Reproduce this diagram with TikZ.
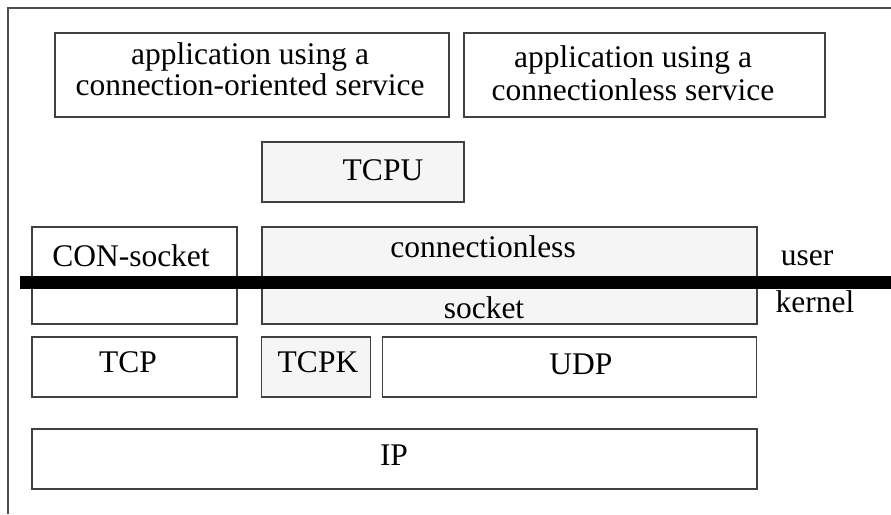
\documentclass[tikz,border=0pt]{standalone}
\usepackage{fontspec}
\setmainfont{Liberation Serif}
\begin{document}
\begin{tikzpicture}[x=1pt,y=-1pt,
  box/.style={draw=black!75, line width=1.2pt, inner sep=0pt, outer sep=0pt},
  graybox/.style={box, fill=black!4},
  txt/.style={inner sep=0pt, anchor=base, font=\fontsize{31.5}{33}\selectfont}]
\useasboundingbox (0,0) rectangle (891,514);
% frame
\draw[draw=black!70, line width=1.5pt] (8,514) -- (8,8) -- (891,8);
% boxes
\node[box, minimum width=394pt, minimum height=84pt] (app1) at (252,75) {};
\node[box, minimum width=361pt, minimum height=84pt] (app2) at (644.5,75) {};
\node[graybox, minimum width=202pt, minimum height=60pt] (tcpu) at (363,172) {};
\node[box, minimum width=205pt, minimum height=97pt] (con) at (134.5,275.5) {};
\node[graybox, minimum width=495pt, minimum height=97pt] (cl) at (509.5,275.5) {};
\node[box, minimum width=205pt, minimum height=60pt] (tcp) at (134.5,367) {};
\node[graybox, minimum width=109pt, minimum height=60pt] (tcpk) at (316,367) {};
\node[box, minimum width=374pt, minimum height=60pt] (udp) at (569.5,367) {};
\node[box, minimum width=725pt, minimum height=60pt] (ip) at (394.5,459) {};
% user/kernel divider
\coordinate (divL) at (20,282.5);
\coordinate (divR) at (891,282.5);
\draw[line width=12.5pt, black] (divL) -- (divR);
% texts
\node[txt] (a1l1) at (250,64) {application using a};
\node[txt] (a1l2) at (250,95) {connection-oriented service};
\node[txt] (a2l1) at (633,67.5) {application using a};
\node[txt] (a2l2) at (633,100) {connectionless service};
\node[txt] (tTCPU) at (383,180) {TCPU};
\node[txt] (tcon) at (131,266) {CON-socket};
\node[txt] (tcl) at (483,257) {connectionless};
\node[txt] (tsock) at (484,318) {socket};
\node[txt] (tuser) at (807,265) {user};
\node[txt] (tkernel) at (815,312) {kernel};
\node[txt] (ttcp) at (128,372) {TCP};
\node[txt] (ttcpk) at (318,372) {TCPK};
\node[txt] (tudp) at (581,374) {UDP};
\node[txt] (tip) at (394,465) {IP};
\end{tikzpicture}
\end{document}
